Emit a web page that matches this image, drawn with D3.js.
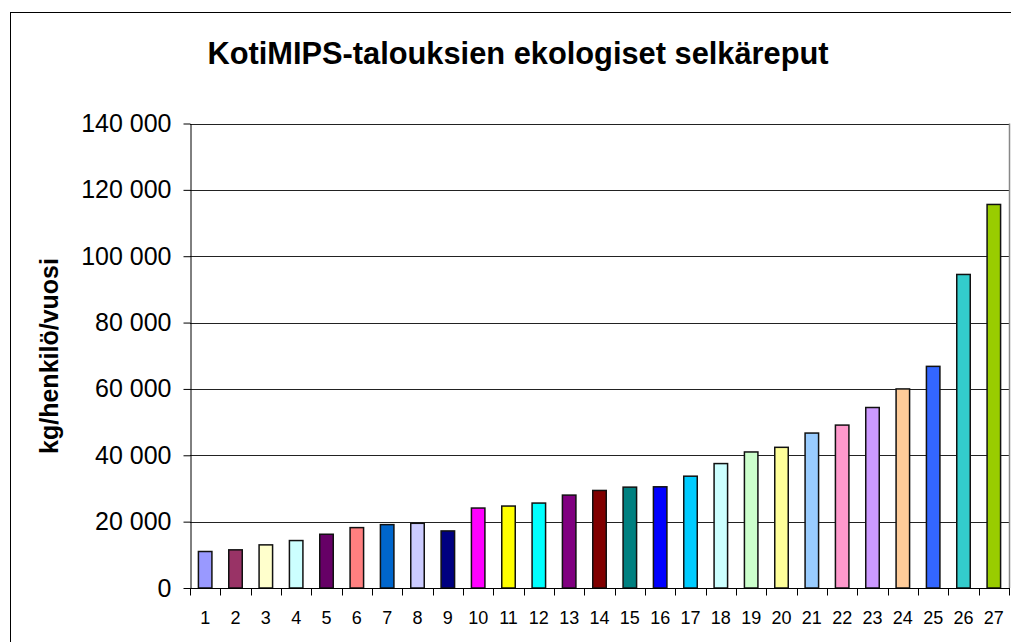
<!DOCTYPE html>
<html>
<head>
<meta charset="utf-8">
<script src="https://cdn.jsdelivr.net/npm/d3@7"></script>
<style>
  html, body { margin: 0; padding: 0; background: #fff; }
  svg { display: block; font-family: "Liberation Sans", Arial, sans-serif; }
</style>
</head>
<body>
<svg id="chart" width="1011" height="642"></svg>
<script>
const categories = d3.range(1, 28).map(String);
const values = [
  11000, 11500, 13000, 14300, 16200, 18200, 19100, 19500, 17200,
  24100, 24700, 25600, 28000, 29400, 30400, 30500, 33700, 37500,
  41000, 42400, 46700, 49100, 54400, 60000, 66800, 94500, 115600
];
const barColors = [
  "#9999ff", "#993366", "#ffffcc", "#ccffff", "#660066", "#ff8080", "#0066cc", "#ccccff", "#000080",
  "#ff00ff", "#ffff00", "#00ffff", "#800080", "#800000", "#008080", "#0000ff", "#00ccff", "#ccffff",
  "#ccffcc", "#ffff99", "#99ccff", "#ff99cc", "#cc99ff", "#ffcc99", "#3366ff", "#33cccc", "#99cc00"
];
const yTicks = [0, 20000, 40000, 60000, 80000, 100000, 120000, 140000];
const title = "KotiMIPS-talouksien ekologiset selkäreput";
const yTitle = "kg/henkilö/vuosi";

const svg = d3.select("#chart");
const plot = { left: 190, top: 123.5, right: 1009, bottom: 588 };

// outer chart frame (runs past the right and bottom edge of the picture)
svg.append("rect")
  .attr("x", 10.5).attr("y", 12.5)
  .attr("width", 1010).attr("height", 640)
  .attr("fill", "#fff").attr("stroke", "#000").attr("stroke-width", 1);

const x = d3.scaleBand()
  .domain(categories)
  .range([plot.left, plot.right])
  .paddingInner(0.555)
  .paddingOuter(0.2775);

const y = d3.scaleLinear()
  .domain([0, 140000])
  .range([plot.bottom, plot.top]);

const fmt = (v) => d3.format(",")(v).replace(/,/g, " ");

// gridlines
svg.append("g")
  .selectAll("line")
  .data(yTicks.slice(1))
  .enter()
  .append("line")
  .attr("x1", plot.left).attr("x2", plot.right)
  .attr("y1", (d) => Math.round(y(d)) + 0.5)
  .attr("y2", (d) => Math.round(y(d)) + 0.5)
  .attr("stroke", "#222").attr("stroke-width", 1);

// plot area border, right side
svg.append("line")
  .attr("x1", plot.right + 0.5).attr("x2", plot.right + 0.5)
  .attr("y1", plot.top).attr("y2", plot.bottom)
  .attr("stroke", "#888").attr("stroke-width", 1.5);

// bars
svg.append("g")
  .selectAll("rect")
  .data(values)
  .enter()
  .append("rect")
  .attr("x", (d, i) => x(categories[i]))
  .attr("y", (d) => y(d))
  .attr("width", x.bandwidth())
  .attr("height", (d) => y(0) - y(d))
  .attr("fill", (d, i) => barColors[i])
  .attr("stroke", "#111")
  .attr("stroke-width", 1.5);

// y axis
const yAxis = svg.append("g")
  .attr("transform", `translate(${plot.left + 0.5},0)`)
  .call(d3.axisLeft(y).tickValues(yTicks).tickSize(7).tickSizeOuter(0).tickPadding(12).tickFormat(fmt));
yAxis.select(".domain").attr("stroke", "#000");
yAxis.selectAll(".tick line").attr("stroke", "#000");
yAxis.selectAll(".tick text")
  .attr("font-size", 25)
  .attr("font-family", "Liberation Sans, Arial, sans-serif")
  .attr("fill", "#000");

// x axis, ticks on category boundaries
const step = x.step();
const xAxis = svg.append("g")
  .attr("transform", `translate(0,${plot.bottom + 0.5})`);
xAxis.append("line")
  .attr("x1", plot.left).attr("x2", plot.right + 1)
  .attr("stroke", "#000");
xAxis.selectAll("line.tk")
  .data(d3.range(categories.length + 1))
  .enter()
  .append("line")
  .attr("class", "tk")
  .attr("x1", (i) => Math.round(plot.left + i * step) + 0.5)
  .attr("x2", (i) => Math.round(plot.left + i * step) + 0.5)
  .attr("y1", 0).attr("y2", 7)
  .attr("stroke", "#000");
xAxis.selectAll("text")
  .data(categories)
  .enter()
  .append("text")
  .attr("x", (d) => x(d) + x.bandwidth() / 2)
  .attr("y", 35)
  .attr("text-anchor", "middle")
  .attr("font-size", 18)
  .attr("fill", "#000")
  .text((d) => d);

// titles
svg.append("text")
  .attr("x", 518).attr("y", 64)
  .attr("text-anchor", "middle")
  .attr("font-size", 30.8)
  .attr("font-weight", "bold")
  .text(title);

svg.append("text")
  .attr("transform", "translate(58,356) rotate(-90)")
  .attr("text-anchor", "middle")
  .attr("font-size", 25)
  .attr("font-weight", "bold")
  .text(yTitle);
</script>
</body>
</html>
